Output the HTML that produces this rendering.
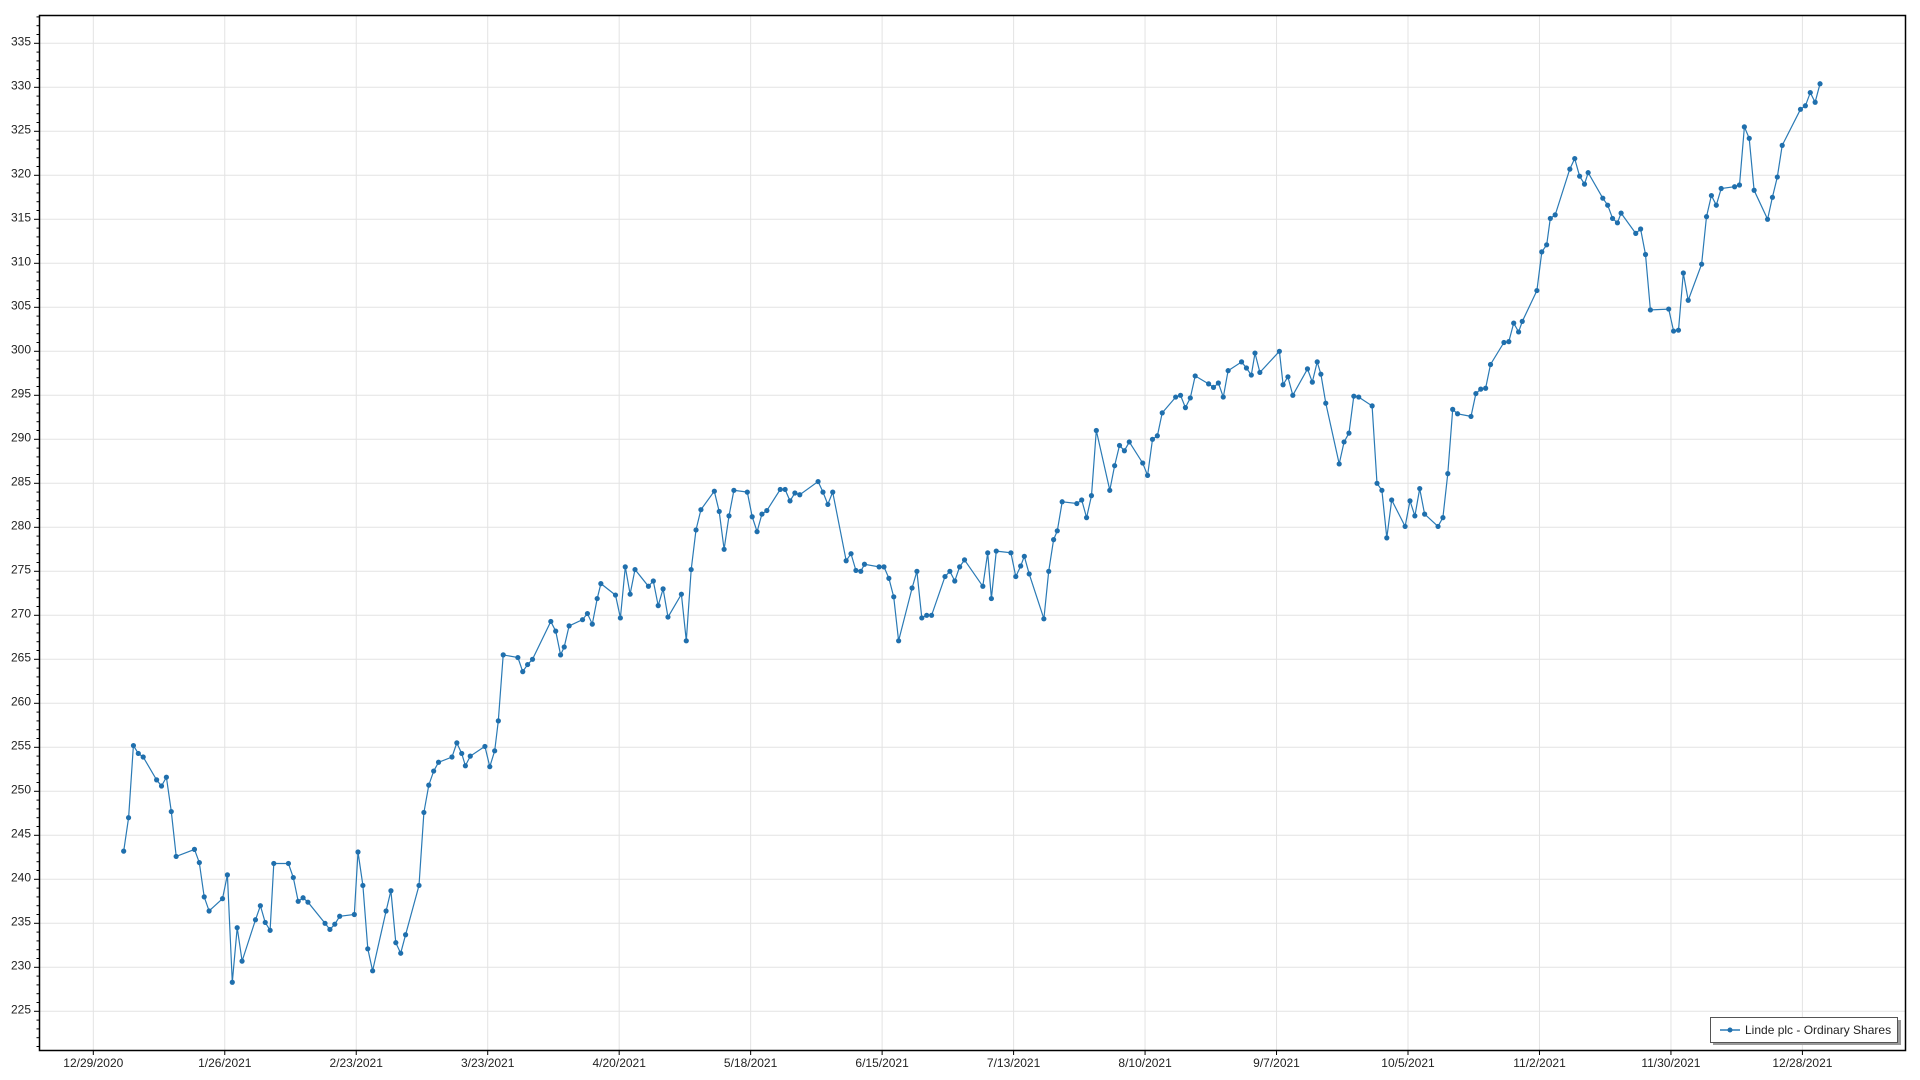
<!DOCTYPE html>
<html><head><meta charset="utf-8"><style>
html,body{margin:0;padding:0;background:#fff;}
svg{display:block;font-family:"Segoe UI","Liberation Sans",sans-serif;}
</style></head><body>
<svg id="c" width="1920" height="1080" viewBox="0 0 1920 1080">
<rect x="0" y="0" width="1920" height="1080" fill="#fff"/>
<g id="grid" stroke="#e3e3e3" stroke-width="1"></g>
<g id="ticks" stroke="#000" stroke-width="1"></g>
<g font-size="12" fill="#222" text-anchor="end">
<text x="31" y="45.3">335</text><text x="31" y="89.3">330</text><text x="31" y="133.3">325</text><text x="31" y="177.3">320</text>
<text x="31" y="221.3">315</text><text x="31" y="265.3">310</text><text x="31" y="309.3">305</text><text x="31" y="353.3">300</text>
<text x="31" y="397.3">295</text><text x="31" y="441.3">290</text><text x="31" y="485.3">285</text><text x="31" y="529.3">280</text>
<text x="31" y="573.3">275</text><text x="31" y="617.3">270</text><text x="31" y="661.3">265</text><text x="31" y="705.3">260</text>
<text x="31" y="749.3">255</text><text x="31" y="793.3">250</text><text x="31" y="837.3">245</text><text x="31" y="881.3">240</text>
<text x="31" y="925.3">235</text><text x="31" y="969.3">230</text><text x="31" y="1013.3">225</text>
</g>
<g font-size="12" fill="#222" text-anchor="middle">
<text x="93.3" y="1067">12/29/2020</text><text x="224.8" y="1067">1/26/2021</text><text x="356.2" y="1067">2/23/2021</text>
<text x="487.7" y="1067">3/23/2021</text><text x="619.2" y="1067">4/20/2021</text><text x="750.6" y="1067">5/18/2021</text>
<text x="882.1" y="1067">6/15/2021</text><text x="1013.6" y="1067">7/13/2021</text><text x="1145.1" y="1067">8/10/2021</text>
<text x="1276.5" y="1067">9/7/2021</text><text x="1408" y="1067">10/5/2021</text><text x="1539.5" y="1067">11/2/2021</text>
<text x="1670.9" y="1067">11/30/2021</text><text x="1802.4" y="1067">12/28/2021</text>
</g>
<g id="series"></g>
<rect x="39.5" y="15.5" width="1866" height="1035" fill="none" stroke="#000" stroke-width="1.5"/>
<rect x="1713" y="1020" width="188" height="25" fill="#999"/>
<rect x="1710.5" y="1017.5" width="187" height="25" fill="#fff" stroke="#555" stroke-width="1"/>
<line x1="1720" y1="1030" x2="1740" y2="1030" stroke="#2a7ab5" stroke-width="1.5"/>
<circle cx="1730" cy="1030" r="2.5" fill="#1f6fad"/>
<text x="1745" y="1034" font-size="12" fill="#222">Linde plc - Ordinary Shares</text>
</svg>
<script>
var d=[101,243.2,105,247,109,255.2,113,254.3,117,253.9,128,251.3,132,250.6,136,251.6,140,247.7,144,242.6,159,243.4,163,241.9,167,238,171,236.4,182,237.8,186,240.5,190,228.3,194,234.5,198,230.7,209,235.4,213,237,217,235.1,221,234.2,224,241.8,236,241.8,240,240.2,244,237.5,248,237.9,252,237.4,266,235,270,234.3,274,234.9,278,235.8,290,236,293,243.1,297,239.3,301,232.1,305,229.6,316,236.4,320,238.7,324,232.8,328,231.6,332,233.7,343,239.3,347,247.6,351,250.7,355,252.3,359,253.3,370,253.9,374,255.5,378,254.3,381,252.9,385,254,397,255.1,401,252.8,405,254.6,408,258,412,265.5,424,265.2,428,263.6,432,264.4,436,265,451,269.3,455,268.2,459,265.5,462,266.4,466,268.8,477,269.5,481,270.2,485,269,489,271.9,492,273.6,504,272.3,508,269.7,512,275.5,516,272.4,520,275.2,531,273.3,535,273.9,539,271.1,543,273,547,269.8,558,272.4,562,267.1,566,275.2,570,279.7,574,282,585,284.1,589,281.8,593,277.5,597,281.3,601,284.2,612,284,616,281.2,620,279.5,624,281.5,628,281.9,639,284.3,643,284.3,647,283,651,283.9,655,283.7,670,285.2,674,284,678,282.6,682,284,693,276.2,697,277,701,275.1,705,275,708,275.8,720,275.5,724,275.5,728,274.2,732,272.1,736,267.1,747,273.1,751,275,755,269.7,759,270,763,270,774,274.4,778,275,782,273.9,786,275.5,790,276.3,805,273.3,809,277.1,812,271.9,816,277.3,828,277.1,832,274.4,836,275.6,839,276.7,843,274.7,855,269.6,859,275,863,278.6,866,279.6,870,282.9,882,282.7,886,283.1,890,281.1,894,283.6,898,291,909,284.2,913,287,917,289.3,921,288.7,925,289.7,936,287.3,940,285.9,944,290,948,290.4,952,293,963,294.8,967,295,971,293.6,975,294.7,979,297.2,990,296.3,994,295.9,998,296.4,1002,294.8,1006,297.8,1017,298.8,1021,298.1,1025,297.3,1028,299.8,1032,297.6,1048,300,1051,296.2,1055,297.1,1059,295,1071,298,1075,296.5,1079,298.8,1082,297.4,1086,294.1,1097,287.2,1101,289.7,1105,290.7,1109,294.9,1113,294.8,1124,293.8,1128,285,1132,284.2,1136,278.8,1140,283.1,1151,280.1,1155,283,1159,281.3,1163,284.4,1167,281.5,1178,280.1,1182,281.1,1186,286.1,1190,293.4,1194,292.9,1205,292.6,1209,295.2,1213,295.7,1217,295.8,1221,298.5,1232,301,1236,301.1,1240,303.2,1244,302.2,1247,303.4,1259,306.9,1263,311.3,1267,312.1,1270,315.1,1274,315.5,1286,320.7,1290,321.9,1294,319.9,1298,319,1301,320.3,1313,317.4,1317,316.6,1321,315.1,1325,314.6,1328,315.7,1340,313.4,1344,313.9,1348,311,1352,304.7,1367,304.8,1371,302.3,1375,302.4,1379,308.9,1383,305.8,1394,309.9,1398,315.3,1402,317.7,1406,316.6,1410,318.5,1421,318.7,1425,318.9,1429,325.5,1433,324.2,1437,318.3,1448,315,1452,317.5,1456,319.8,1460,323.4,1475,327.5,1479,327.9,1483,329.4,1487,328.3,1491,330.4];
var NS="http://www.w3.org/2000/svg";
function el(t,a,p){var e=document.createElementNS(NS,t);for(var k in a)e.setAttribute(k,a[k]);p.appendChild(e);return e;}
function Y(v){return 1011.3-(v-225)*8.8;}
function X(x){var o=x*1.2245;return 123.7+(o-123.7)*0.99665;}
var g=document.getElementById('grid'),tk=document.getElementById('ticks'),s=document.getElementById('series');
for(var v=225;v<=335;v+=5){var y=Y(v);el('line',{x1:40,x2:1905,y1:y,y2:y},g);}
for(var i=0;i<14;i++){var x=93.3+i*131.47;el('line',{x1:x,x2:x,y1:16,y2:1050},g);el('line',{x1:x,x2:x,y1:1050,y2:1055},tk);}
for(var v=221;v<=338;v++){var y=Y(v);el('line',{x1:v%5==0?34:36.5,x2:39.5,y1:y,y2:y},tk);}
var pts=[];
for(var i=0;i<d.length;i+=2){pts.push(X(d[i]).toFixed(1)+','+Y(d[i+1]).toFixed(1));}
el('polyline',{points:pts.join(' '),fill:'none',stroke:'#2a7ab5','stroke-width':1.2},s);
for(var i=0;i<d.length;i+=2){el('circle',{cx:X(d[i]),cy:Y(d[i+1]),r:2.6,fill:'#1f6fad'},s);}
</script>
</body></html>
